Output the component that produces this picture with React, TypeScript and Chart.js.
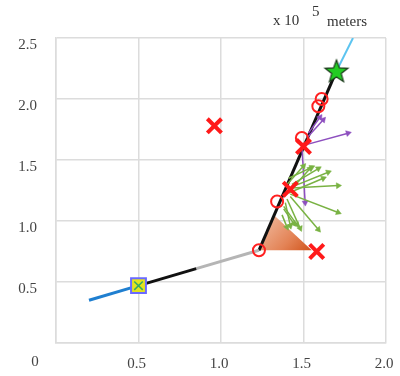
import React, { useEffect, useRef } from "react";
import { Chart, registerables } from "chart.js";

Chart.register(...registerables);

// axis ticks
const xTicks = [0, 0.5, 1.0, 1.5, 2.0];
const yTicks = [0, 0.5, 1.0, 1.5, 2.0, 2.5];

// trajectory segments (x 10^5 meters)
const blueX = [0.2, 0.5];
const blueY = [0.35, 0.47];
const blackAX = [0.5, 0.85];
const blackAY = [0.47, 0.61];
const grayX = [0.85, 1.23];
const grayY = [0.61, 0.76];
const blackBX = [1.23, 1.7];
const blackBY = [0.76, 2.23];
const lightBlueX = [1.7, 1.8];
const lightBlueY = [2.23, 2.5];

// shaded triangle
const triX = [1.23, 1.32, 1.55, 1.23];
const triY = [0.76, 1.05, 0.76, 0.76];

// markers
const startX = [0.5];
const startY = [0.47];
const endX = [1.7];
const endY = [2.23];
const circleX = [1.23, 1.34, 1.49, 1.59, 1.61];
const circleY = [0.76, 1.16, 1.68, 1.94, 2.0];
const crossX = [0.96, 1.5, 1.42, 1.58];
const crossY = [1.78, 1.61, 1.26, 0.75];

// green arrows: start -> end
const greenX0 = [1.43, 1.42, 1.43, 1.43, 1.42, 1.42, 1.4, 1.39, 1.4, 1.38, 1.41, 1.41, 1.37, 1.38];
const greenY0 = [1.3, 1.25, 1.28, 1.27, 1.22, 1.2, 1.18, 1.15, 1.3, 1.1, 1.23, 1.35, 1.05, 1.12];
const greenX1 = [1.59, 1.54, 1.65, 1.71, 1.71, 1.59, 1.48, 1.42, 1.5, 1.44, 1.62, 1.55, 1.4, 1.46];
const greenY1 = [1.43, 1.43, 1.4, 1.29, 1.07, 0.93, 0.94, 0.96, 1.45, 0.98, 1.35, 1.44, 0.95, 0.97];

// purple arrows: start -> end
const purpleX0 = [1.5, 1.52, 1.53, 1.49];
const purpleY0 = [1.62, 1.68, 1.72, 1.62];
const purpleX1 = [1.77, 1.62, 1.6, 1.51];
const purpleY1 = [1.72, 1.83, 1.85, 1.15];

const FONT = "'Liberation Serif', 'DejaVu Serif', serif";
const TEXT = "#444444";
const GRID = "#dcdcdc";

function pts(xs: number[], ys: number[]) {
  return xs.map((x, i) => ({ x, y: ys[i] }));
}

function makeStar(): HTMLCanvasElement {
  const c = document.createElement("canvas");
  const s = 28;
  c.width = s;
  c.height = s;
  const g = c.getContext("2d")!;
  const cx = s / 2, cy = s / 2 + 1, R = 12, r = 5;
  g.beginPath();
  for (let i = 0; i < 10; i++) {
    const a = -Math.PI / 2 + (i * Math.PI) / 5;
    const rad = i % 2 === 0 ? R : r;
    const px = cx + rad * Math.cos(a);
    const py = cy + rad * Math.sin(a);
    if (i === 0) g.moveTo(px, py);
    else g.lineTo(px, py);
  }
  g.closePath();
  g.fillStyle = "#22cc22";
  g.fill();
  g.lineWidth = 1.2;
  g.strokeStyle = "#1a3a1a";
  g.stroke();
  return c;
}

function finite(...v: number[]) {
  return v.every((n) => Number.isFinite(n));
}

function arrowDataset(x0: number, y0: number, x1: number, y1: number, color: string) {
  return {
    type: "scatter" as const,
    data: [
      { x: x0, y: y0 },
      { x: x1, y: y1 },
    ],
    showLine: true,
    borderColor: color,
    borderWidth: 1.5,
    backgroundColor: color,
    pointBorderColor: color,
    pointBackgroundColor: color,
    pointStyle: "triangle" as const,
    pointRadius: [0, 3.4],
    pointBorderWidth: 0.5,
    pointRotation: (ctx: any) => {
      const sc = ctx.chart.scales;
      if (!sc || !sc.x || !sc.y) return 0;
      const dx = sc.x.getPixelForValue(x1) - sc.x.getPixelForValue(x0);
      const dy = sc.y.getPixelForValue(y1) - sc.y.getPixelForValue(y0);
      if (!finite(dx, dy)) return 0;
      return (Math.atan2(dx, -dy) * 180) / Math.PI;
    },
    order: 8,
  };
}

const textPlugin = {
  id: "extraText",
  afterDraw(chart: any) {
    const ctx = chart.ctx;
    ctx.save();
    ctx.fillStyle = TEXT;
    ctx.textBaseline = "middle";
    ctx.textAlign = "center";
    ctx.font = `15px ${FONT}`;
    ctx.fillText("0", 35, 362);
    ctx.textAlign = "left";
    ctx.fillStyle = "#333";
    ctx.font = `15px ${FONT}`;
    ctx.fillText("x 10", 273, 21);
    ctx.fillText("5", 312, 12);
    ctx.fillText("meters", 327, 22);
    ctx.restore();
  },
};

export default function App() {
  const ref = useRef<HTMLCanvasElement | null>(null);

  useEffect(() => {
    if (!ref.current) return;
    const star = makeStar();
    const datasets: any[] = [];

    datasets.push({
      type: "scatter",
      data: pts(triX, triY),
      showLine: true,
      fill: "shape",
      borderWidth: 0,
      borderColor: "rgba(0,0,0,0)",
      pointRadius: 0,
      backgroundColor: (ctx: any) => {
        const ch = ctx.chart;
        const sc = ch.scales;
        if (!ch.chartArea || !sc || !sc.x || !sc.y) return "#e0804f";
        const x0 = sc.x.getPixelForValue(triX[1]);
        const y0 = sc.y.getPixelForValue(triY[1]);
        const x1 = sc.x.getPixelForValue(triX[2]);
        const y1 = sc.y.getPixelForValue(triY[2]);
        if (!finite(x0, y0, x1, y1)) return "#e0804f";
        const g = ch.ctx.createLinearGradient(x0, y0, x1, y1);
        g.addColorStop(0, "#eeb091");
        g.addColorStop(0.55, "#e38356");
        g.addColorStop(1, "#d0531a");
        return g;
      },
      order: 10,
    });

    const seg = (xs: number[], ys: number[], color: string, w: number) => ({
      type: "scatter",
      data: pts(xs, ys),
      showLine: true,
      borderColor: color,
      borderWidth: w,
      pointRadius: 0,
      order: 9,
    });
    datasets.push(seg(blueX, blueY, "#1f7fd0", 3));
    datasets.push(seg(blackAX, blackAY, "#111111", 3));
    datasets.push(seg(grayX, grayY, "#b5b5b5", 3));
    datasets.push(seg(blackBX, blackBY, "#111111", 3));
    datasets.push(seg(lightBlueX, lightBlueY, "#5cc4f0", 2));

    greenX0.forEach((_, i) =>
      datasets.push(arrowDataset(greenX0[i], greenY0[i], greenX1[i], greenY1[i], "#79b243"))
    );
    purpleX0.forEach((_, i) =>
      datasets.push(arrowDataset(purpleX0[i], purpleY0[i], purpleX1[i], purpleY1[i], "#8d4fbf"))
    );

    datasets.push({
      type: "scatter",
      data: pts(circleX, circleY),
      pointStyle: "circle",
      pointRadius: 6,
      pointBorderWidth: 2,
      pointBorderColor: "#ff2020",
      pointBackgroundColor: "rgba(0,0,0,0)",
      order: 3,
    });
    datasets.push({
      type: "scatter",
      data: pts(crossX, crossY),
      pointStyle: "crossRot",
      pointRadius: 10,
      pointBorderWidth: 4,
      pointBorderColor: "#ff1a1a",
      order: 2,
    });
    datasets.push({
      type: "scatter",
      data: pts(startX, startY),
      pointStyle: "rect",
      pointRadius: 10.5,
      pointBorderWidth: 2,
      pointBorderColor: "#6a6aff",
      pointBackgroundColor: "#e3e31e",
      order: 1,
    });
    datasets.push({
      type: "scatter",
      data: pts(startX, startY),
      pointStyle: "crossRot",
      pointRadius: 6,
      pointBorderWidth: 1.5,
      pointBorderColor: "#33aa66",
      order: 0,
    });
    datasets.push({
      type: "scatter",
      data: pts(endX, endY),
      pointStyle: star,
      pointRadius: 12,
      order: 0,
    });

    const chart = new Chart(ref.current, {
      type: "scatter",
      data: { datasets },
      plugins: [textPlugin],
      options: {
        animation: false,
        responsive: false,
        events: [],
        layout: { padding: { left: 0, right: 13, top: 38, bottom: 0 } },
        plugins: { legend: { display: false }, tooltip: { enabled: false } },
        scales: {
          x: {
            type: "linear",
            min: 0,
            max: 2,
            afterBuildTicks: (s: any) => {
              s.ticks = xTicks.map((v) => ({ value: v }));
            },
            afterFit: (s: any) => {
              s.height = 33;
              s.paddingLeft = 0;
              s.paddingRight = 0;
            },
            ticks: {
              callback: (v: any) => (Number(v) === 0 ? "" : Number(v).toFixed(1)),
              font: { family: FONT, size: 15 },
              color: TEXT,
              padding: 12,
              labelOffset: -2,
              maxRotation: 0,
              autoSkip: false,
            },
            grid: { color: GRID, lineWidth: 1.5, drawTicks: false },
            border: { color: GRID, width: 1.5 },
          },
          y: {
            type: "linear",
            min: 0,
            max: 2.5,
            afterBuildTicks: (s: any) => {
              s.ticks = yTicks.map((v) => ({ value: v }));
            },
            afterFit: (s: any) => {
              s.width = 56;
              s.paddingTop = 0;
              s.paddingBottom = 0;
            },
            ticks: {
              callback: (v: any) => (Number(v) === 0 ? "" : Number(v).toFixed(1)),
              font: { family: FONT, size: 15 },
              color: TEXT,
              padding: 19,
              labelOffset: 7,
              autoSkip: false,
            },
            grid: { color: GRID, lineWidth: 1.5, drawTicks: false },
            border: { color: GRID, width: 1.5 },
          },
        },
      },
    } as any);
    return () => chart.destroy();
  }, []);

  return (
    <div style={{ position: "fixed", left: 0, top: 0, width: 400, height: 376, background: "#fff" }}>
      <canvas ref={ref} width={400} height={376} style={{ width: 400, height: 376 }} />
    </div>
  );
}
